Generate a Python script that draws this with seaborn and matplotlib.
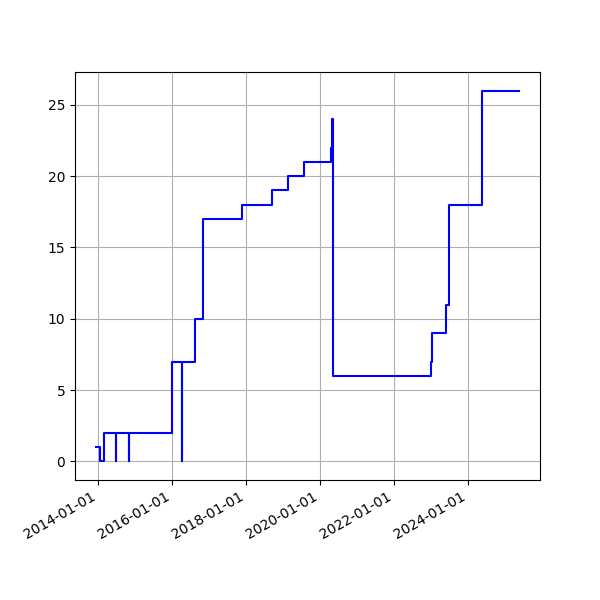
import matplotlib
matplotlib.use("Agg")
import matplotlib.pyplot as plt
import matplotlib.dates as mdates
import seaborn as sns
import pandas as pd

dates = [
    "2013-12-12", "2014-01-20", "2014-02-25",
    "2014-06-30", "2014-07-01",
    "2014-10-30", "2014-10-31",
    "2016-01-05",
    "2016-04-06", "2016-04-07",
    "2016-08-18", "2016-10-28", "2017-11-18",
    "2018-09-10", "2019-02-24", "2019-07-31",
    "2020-04-15", "2020-04-28", "2020-05-11",
    "2022-12-30", "2023-01-09", "2023-05-26",
    "2023-06-25", "2024-05-21", "2025-05-19",
]
values = [
    1, 0, 2,
    0, 2,
    0, 2,
    7,
    0, 7,
    10, 17, 18,
    19, 20, 21,
    22, 24, 6,
    7, 9, 11,
    18, 26, 26,
]

df = pd.DataFrame({"date": pd.to_datetime(dates), "value": values})

fig, ax = plt.subplots(figsize=(6, 6), dpi=100)
sns.lineplot(data=df, x="date", y="value", ax=ax, color="blue",
             linewidth=1.5, drawstyle="steps-post", estimator=None)
ax.set_xlabel("")
ax.set_ylabel("")
ax.grid(True)
ax.xaxis.set_major_locator(mdates.YearLocator(2))
ax.xaxis.set_major_formatter(mdates.DateFormatter("%Y-%m-%d"))
fig.autofmt_xdate()
fig.savefig("out.png", dpi=100)
